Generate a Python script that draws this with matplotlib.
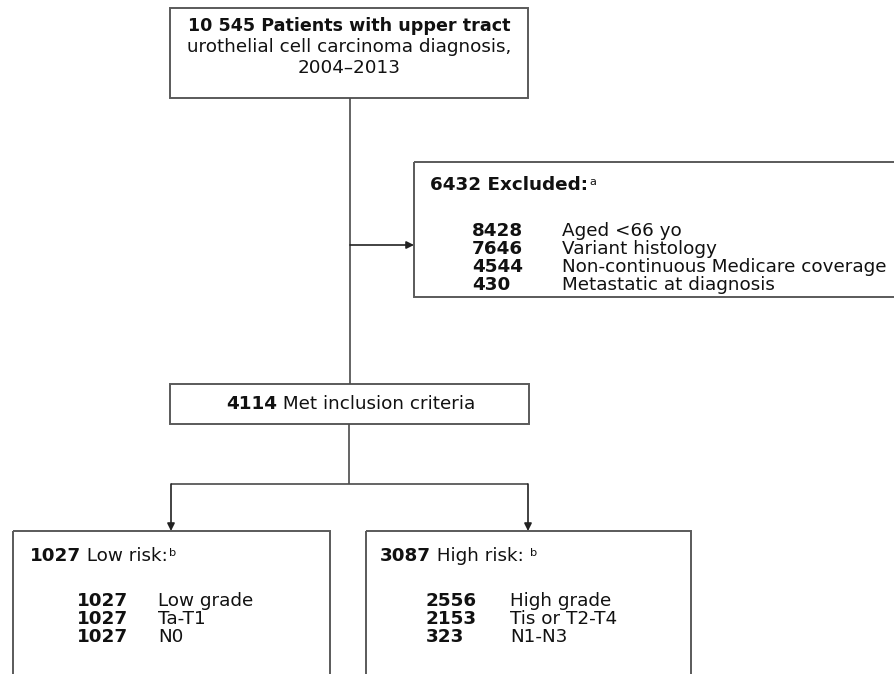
import matplotlib
matplotlib.use("Agg")
import matplotlib.pyplot as plt
from matplotlib.patches import Rectangle

# ---------------- data ----------------
cohort_total = "10 545"
cohort_lines = ["Patients with upper tract", "urothelial cell carcinoma diagnosis,", "2004\u20132013"]
excluded_total = 6432
excl_counts = [8428, 7646, 4544, 430]
excl_labels = ["Aged <66 yo", "Variant histology", "Non-continuous Medicare coverage", "Metastatic at diagnosis"]
included_total = 4114
included_label = "Met inclusion criteria"
low_total = 1027
low_counts = [1027, 1027, 1027]
low_labels = ["Low grade", "Ta-T1", "N0"]
high_total = 3087
high_counts = [2556, 2153, 323]
high_labels = ["High grade", "Tis or T2-T4", "N1-N3"]

# ---------------- figure ----------------
plt.rcParams['font.family'] = ['DejaVu Sans']
FS = 13.2
FS_TOP = 12.6
TXT = '#111111'
EDGE = '#5a5a5a'
LINE = '#4a4a4a'

fig = plt.figure(figsize=(8.95, 6.74), dpi=100)
ax = fig.add_axes([0, 0, 1, 1])
ax.set_xlim(0, 895)
ax.set_ylim(674, 0)
ax.axis('off')


def box(x0, y0, x1, y1):
    ax.add_patch(Rectangle((x0, y0), x1 - x0, y1 - y0, fill=False,
                           edgecolor=EDGE, lw=1.4, clip_on=True))


def line(xs, ys):
    ax.plot(xs, ys, color=LINE, lw=1.2, solid_capstyle='butt')


def arrow(x0, y0, x1, y1):
    ax.annotate("", xy=(x1, y1), xytext=(x0, y0),
                arrowprops=dict(arrowstyle='-|>', color='#222222', lw=1.2,
                                mutation_scale=11, shrinkA=0, shrinkB=0))


def run(x, y, bold_txt, reg_txt, sup=None, sup_gap=0):
    t1 = ax.text(x, y, bold_txt, fontsize=FS, fontweight='bold', color=TXT,
                 ha='left', va='bottom')
    t2 = ax.annotate(reg_txt, xy=(1, 0), xycoords=t1, fontsize=FS, color=TXT,
                     ha='left', va='bottom')
    if sup is not None:
        ax.annotate(sup, xy=(1, 1), xycoords=t2, xytext=(sup_gap, -0.5),
                    textcoords='offset points', fontsize=FS * 0.62, color=TXT,
                    ha='left', va='top')
    return t1


def rows(x_num, x_lab, y0, dy, counts, labels):
    for i, (c, lab) in enumerate(zip(counts, labels)):
        yy = y0 + i * dy
        ax.text(x_num, yy, f"{c}", fontsize=FS, fontweight='bold', color=TXT,
                ha='left', va='bottom')
        ax.text(x_lab, yy, lab, fontsize=FS, color=TXT, ha='left', va='bottom')


# ---------- top box ----------
box(170, 8, 528, 98)
ax.text(349, 26, f"{cohort_total} {cohort_lines[0]}", fontsize=FS_TOP,
        fontweight='bold', color=TXT, ha='center', va='center')
ax.text(349, 47, cohort_lines[1], fontsize=FS, color=TXT, ha='center', va='center')
ax.text(349, 68, cohort_lines[2], fontsize=FS, color=TXT, ha='center', va='center')

# main trunk
line([350, 350], [98, 384])
arrow(350, 245, 414, 245)

# ---------- excluded box ----------
box(414, 162, 910, 297)
t = ax.text(430, 194, f"{excluded_total} Excluded:", fontsize=FS, fontweight='bold',
            color=TXT, ha='left', va='bottom')
ax.annotate("a", xy=(1, 1), xycoords=t, xytext=(1, -0.5), textcoords='offset points',
            fontsize=FS * 0.62, color=TXT, ha='left', va='top')
rows(472, 562, 240, 18, excl_counts, excl_labels)

# ---------- inclusion box ----------
box(170, 384, 529, 424)
r1 = ax.text(349, 404, f"{included_total} {included_label}", fontsize=FS,
             color=(0, 0, 0, 0), ha='center', va='center')
fig.canvas.draw()
bb = r1.get_window_extent().transformed(ax.transData.inverted())
run(min(bb.x0, bb.x1), max(bb.y0, bb.y1), f"{included_total}", f" {included_label}")
r1.remove()

# split connector
line([349, 349], [424, 484])
line([171, 528], [484, 484])
arrow(171, 484, 171, 531)
arrow(528, 484, 528, 531)

# ---------- low risk box ----------
box(13, 531, 330, 700)
run(30, 565, f"{low_total}", " Low risk:", sup="b", sup_gap=0.5)
rows(77, 158, 610, 18, low_counts, low_labels)

# ---------- high risk box ----------
box(366, 531, 691, 700)
run(380, 565, f"{high_total}", " High risk: ", sup="b", sup_gap=0)
rows(426, 510, 610, 18, high_counts, high_labels)

fig.savefig("out.png", dpi=100, facecolor='white')
